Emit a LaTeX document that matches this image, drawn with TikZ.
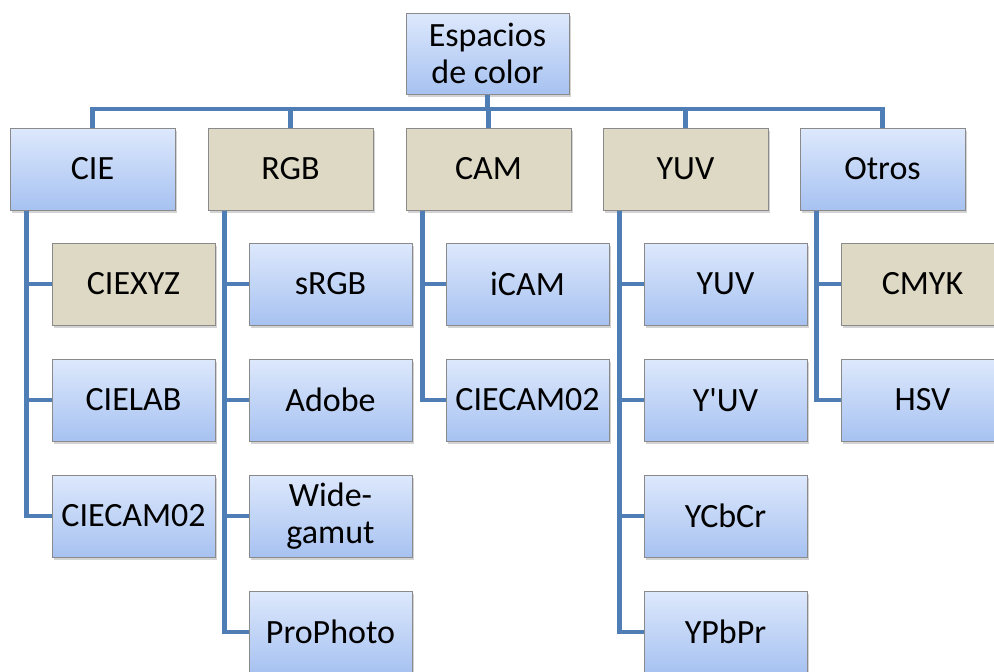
\documentclass[tikz,border=0pt]{standalone}
\usepackage{fontspec}
\setmainfont{Carlito}
\usetikzlibrary{shadows}
\definecolor{lineblue}{HTML}{4F7DB5}
\definecolor{boxtop}{HTML}{DDE8FC}
\definecolor{boxbot}{HTML}{A7C2F1}
\definecolor{tanfill}{HTML}{DDD9C4}
\definecolor{edgegray}{HTML}{8A8A8A}
\tikzset{
  box/.style={draw=edgegray, line width=1pt, minimum height=82pt, inner sep=2pt,
    align=center, font=\fontsize{34}{37}\selectfont,
    drop shadow={shadow xshift=2pt, shadow yshift=-2.5pt, opacity=0.35}},
  bluebox/.style={box, top color=boxtop, bottom color=boxbot},
  tanbox/.style={box, fill=tanfill},
  wide/.style={minimum width=165pt},
  narrow/.style={minimum width=163pt},
  conn/.style={draw=lineblue, line width=4.5pt}
}
\begin{document}
\begin{tikzpicture}[x=1pt, y=-1pt]
\useasboundingbox (0,0) rectangle (994,672);
\clip (0,0) rectangle (994,672);
% root
\node[bluebox, narrow, minimum height=81pt] (root) at (487.5,53.5) {Espacios\\de color};
% first level
\node[bluebox, wide] (cie)   at (92.5,169)  {CIE};
\node[tanbox,  wide] (rgb)   at (290.5,169) {RGB};
\node[tanbox,  wide] (cam)   at (488.5,169) {CAM};
\node[tanbox,  wide] (yuv)   at (685.5,169) {YUV};
\node[bluebox, wide] (otros) at (882.5,169) {Otros};
% CIE family
\node[tanbox,  narrow] (ciexyz) at (133.5,284) {CIEXYZ};
\node[bluebox, narrow] (cielab) at (133.5,400) {CIELAB};
\node[bluebox, narrow] (ciecamA) at (133.5,516) {CIECAM02};
% RGB family
\node[bluebox, narrow] (srgb)  at (330.5,284) {sRGB};
\node[bluebox, narrow] (adobe) at (330.5,400) {Adobe};
\node[bluebox, narrow] (wide)  at (330.5,516) {Wide-\\gamut};
\node[bluebox, narrow] (pro)   at (330.5,632) {ProPhoto};
% CAM family
\node[bluebox, narrow] (icam)   at (527.5,284) {iCAM};
\node[bluebox, narrow] (ciecamB) at (527.5,400) {CIECAM02};
% YUV family
\node[bluebox, narrow] (yuvA)  at (725.5,284) {YUV};
\node[bluebox, narrow] (yuvB)  at (725.5,400) {Y\textquotesingle UV};
\node[bluebox, narrow] (ycbcr) at (725.5,516) {YCbCr};
\node[bluebox, narrow] (ypbpr) at (725.5,632) {YPbPr};
% other spaces
\node[tanbox,  narrow] (cmyk) at (922.5,284) {CMYK};
\node[bluebox, narrow] (hsv)  at (922.5,400) {HSV};

% bus from the root to the first level
\coordinate (bus) at (0,109);
\draw[conn] (root.south) -- (root.south |- bus);
\draw[conn] ([xshift=-2.25pt]cie.north |- bus) -- ([xshift=2.25pt]otros.north |- bus);
\foreach \n in {cie,rgb,cam,yuv,otros}
  \draw[conn] (\n.north |- bus) -- (\n.north);

% branches to the second level
\foreach \p/\c in {cie/ciexyz, cie/cielab, cie/ciecamA,
                   rgb/srgb, rgb/adobe, rgb/wide, rgb/pro,
                   cam/icam, cam/ciecamB,
                   yuv/yuvA, yuv/yuvB, yuv/ycbcr, yuv/ypbpr,
                   otros/cmyk, otros/hsv}
  \draw[conn, line join=miter] ([xshift=17pt]\p.south west) |- (\c.west);
\end{tikzpicture}
\end{document}
